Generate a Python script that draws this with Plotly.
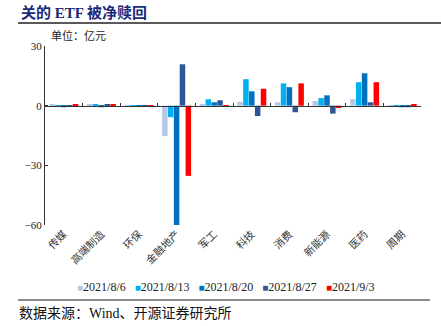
import plotly.graph_objects as go

categories = ['传媒', '高端制造', '环保', '金融地产', '军工', '科技', '消费', '新能源', '医药', '周期']
series_names = ['2021/8/6', '2021/8/13', '2021/8/20', '2021/8/27', '2021/9/3']
series_colors = ['#B4C7E7', '#00B0F0', '#0070C0', '#2F5597', '#FF0000']
v_0806 = [0.4, 0.4, 0.1, -15.3, 0.5, 2.0, 1.7, 2.3, 3.2, -0.3]
v_0813 = [-0.6, 0.5, 0.1, -5.8, 3.2, 13.3, 11.2, 3.8, 11.8, -0.5]
v_0820 = [-0.8, -0.8, 0.1, -60.5, 1.7, 7.2, 9.3, 5.2, 16.3, -0.8]
v_0827 = [0.1, 0.5, 0.1, 20.8, 2.7, -5.2, -3.3, -4.0, 1.7, -0.8]
v_0903 = [0.8, 0.6, 0.1, -35.3, -0.7, 8.5, 11.2, -1.2, 11.8, 0.4]
y_ticks = [-60, -30, 0, 30]

title_text = '关的 ETF 被净赎回'
unit_text = '单位：亿元'
source_text = '数据来源：Wind、开源证券研究所'

W, H = 441, 326
ML, MR, MT, MB = 45, 20, 46, 101
PW, PH = W - ML - MR, H - MT - MB

def px(x):
    return (x - ML) / PW

def py(y):
    return (H - MB - y) / PH

SERIF = 'Times New Roman, Liberation Serif, Noto Sans CJK SC, serif'

fig = go.Figure()
all_vals = [v_0806, v_0813, v_0820, v_0827, v_0903]
for name, color, vals in zip(series_names, series_colors, all_vals):
    fig.add_trace(go.Bar(x=categories, y=vals, name=name, marker_color=color,
                         marker_line_width=0, showlegend=False))

# invisible trace to carry the zero-line category axis
fig.add_trace(go.Scatter(x=categories, y=[0] * len(categories), xaxis='x2', mode='markers',
                         marker=dict(opacity=0), showlegend=False, hoverinfo='skip'))

ymin, ymax = y_ticks[0], y_ticks[-1]
zero_pos = (0 - ymin) / (ymax - ymin)

fig.update_layout(
    width=W, height=H,
    margin=dict(l=ML, r=MR, t=MT, b=MB),
    paper_bgcolor='white', plot_bgcolor='white',
    barmode='group', bargap=0.22, bargroupgap=0.06,
    font=dict(family=SERIF, size=11, color='#222'),
    xaxis=dict(type='category', categoryarray=categories, range=[-0.5, len(categories) - 0.5],
               showline=False, ticks='', tickangle=-45, showgrid=False, zeroline=False,
               tickfont=dict(size=10.5, color='#333')),
    xaxis2=dict(type='category', categoryarray=categories, range=[-0.5, len(categories) - 0.5],
                overlaying='x', anchor='free', position=zero_pos, showline=True,
                linecolor='#333', linewidth=1, ticks='inside', tickson='boundaries',
                ticklen=3, tickcolor='#333', showticklabels=False, showgrid=False),
    yaxis=dict(range=[ymin, ymax], tickvals=y_ticks, showline=True, linecolor='#333',
               linewidth=1, ticks='inside', ticklen=3, tickcolor='#333', showgrid=False,
               zeroline=False, tickfont=dict(size=11, color='#222')),
    showlegend=False,
)

legend_html = '&nbsp;&nbsp;&nbsp;'.join(
    f"<span style='color:{c};font-size:10px'>■</span>{n}" for n, c in zip(series_names, series_colors)
)

annotations = [
    dict(text=f'<b>{title_text}</b>', x=px(19), y=py(12), xref='paper', yref='paper',
         xanchor='left', yanchor='middle', showarrow=False,
         font=dict(size=15, color='#1B2A78', family=SERIF)),
    dict(text=unit_text, x=px(49), y=py(36), xref='paper', yref='paper',
         xanchor='left', yanchor='middle', showarrow=False, font=dict(size=11, color='#222')),
    dict(text=legend_html, x=px(226), y=py(287), xref='paper', yref='paper',
         xanchor='center', yanchor='middle', showarrow=False, font=dict(size=12, color='#222')),
    dict(text=source_text, x=px(17), y=py(313), xref='paper', yref='paper',
         xanchor='left', yanchor='middle', showarrow=False, font=dict(size=14, color='#111')),
]
fig.update_layout(annotations=annotations)

fig.update_layout(shapes=[
    dict(type='line', xref='paper', yref='paper', x0=px(18), x1=px(441), y0=py(23), y1=py(23),
         line=dict(color='#222', width=1.5)),
    dict(type='line', xref='paper', yref='paper', x0=px(18), x1=px(430), y0=py(300), y1=py(300),
         line=dict(color='#8C8C8C', width=2)),
])

fig.write_html('out.html')
